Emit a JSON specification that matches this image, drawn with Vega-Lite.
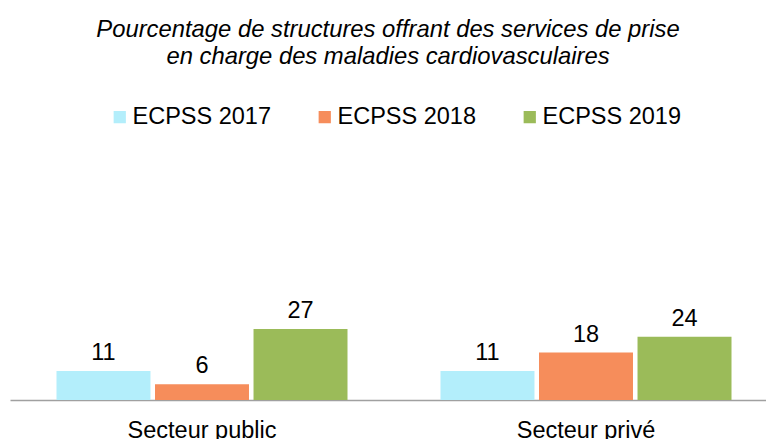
{
  "$schema": "https://vega.github.io/schema/vega-lite/v6.json",
  "autosize": {"type": "none"},
  "width": 756,
  "height": 260,
  "padding": {"left": 10, "top": 140, "right": 0, "bottom": 39},
  "background": "white",
  "title": {
    "text": ["Pourcentage de structures offrant des services de prise", "en charge des maladies cardiovasculaires"],
    "font": "Liberation Sans",
    "fontSize": 23.8,
    "fontStyle": "italic",
    "fontWeight": "normal",
    "color": "#000000",
    "lineHeight": 27,
    "anchor": "middle",
    "frame": "group",
    "orient": "top",
    "offset": 36,
    "dx": 0
  },
  "data": {
    "values": [
      {"secteur": "Secteur public", "enquete": "ECPSS 2017", "valeur": 11},
      {"secteur": "Secteur public", "enquete": "ECPSS 2018", "valeur": 6},
      {"secteur": "Secteur public", "enquete": "ECPSS 2019", "valeur": 27},
      {"secteur": "Secteur privé", "enquete": "ECPSS 2017", "valeur": 11},
      {"secteur": "Secteur privé", "enquete": "ECPSS 2018", "valeur": 18},
      {"secteur": "Secteur privé", "enquete": "ECPSS 2019", "valeur": 24}
    ]
  },
  "encoding": {
    "x": {
      "field": "secteur",
      "type": "nominal",
      "sort": ["Secteur public", "Secteur privé"],
      "scale": {"paddingInner": 0, "paddingOuter": 0, "range": [0, 768]},
      "axis": {
        "title": null,
        "labelAngle": 0,
        "labelFont": "Liberation Sans",
        "labelFontSize": 23.5,
        "labelColor": "#000000",
        "labelPadding": 18,
        "ticks": false,
        "domainColor": "#A0A0A0",
        "domainWidth": 1.3,
        "grid": false
      }
    },
    "xOffset": {
      "field": "enquete",
      "type": "nominal",
      "scale": {"paddingInner": 0.046, "paddingOuter": 0.472}
    },
    "y": {
      "field": "valeur",
      "type": "quantitative",
      "scale": {"domain": [0, 98.75], "nice": false, "zero": true},
      "axis": null
    }
  },
  "layer": [
    {
      "mark": {"type": "bar"},
      "encoding": {
        "color": {
          "field": "enquete",
          "type": "nominal",
          "scale": {
            "domain": ["ECPSS 2017", "ECPSS 2018", "ECPSS 2019"],
            "range": ["#B3EEFB", "#F68D5B", "#9BBB59"]
          },
          "legend": {
            "title": null,
            "orient": "none",
            "legendX": 98,
            "legendY": -35,
            "direction": "horizontal",
            "columns": 3,
            "padding": 0,
            "symbolType": "square",
            "symbolSize": 150,
            "symbolStrokeWidth": 0,
            "labelFont": "Liberation Sans",
            "labelFontSize": 23.5,
            "labelColor": "#000000",
            "labelOffset": 1,
            "labelLimit": 300,
            "columnPadding": 42
          }
        }
      }
    },
    {
      "mark": {
        "type": "text",
        "font": "Liberation Sans",
        "fontSize": 23.5,
        "color": "#000000",
        "baseline": "alphabetic",
        "dy": -11
      },
      "encoding": {
        "text": {"field": "valeur", "type": "quantitative"}
      }
    }
  ],
  "config": {
    "view": {"stroke": null}
  }
}
